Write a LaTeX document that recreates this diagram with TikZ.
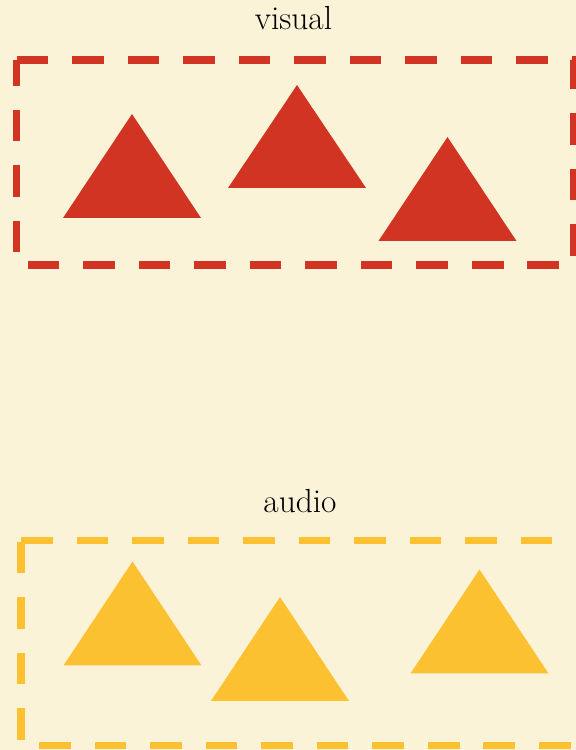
\documentclass[tikz,border=0pt]{standalone}
\usepackage{xcolor}
\usepackage{tikz}

\definecolor{fondo}{RGB}{250,243,216}
\definecolor{rojo}{RGB}{209,52,34}
\definecolor{amarillo}{RGB}{251,193,48}

\tikzset{
    marco/.style = {line width = 4.4pt, dash pattern = on 18pt off 13.6pt},
    etiqueta/.style = {anchor = base, font = \fontsize{19}{22}\selectfont}
}

\begin{document}
\begin{tikzpicture}
    % Fondo
    \fill[fondo] (0,0) rectangle (11.52,15);
    \useasboundingbox (0,0) rectangle (11.52,15);

    % Grupo visual
    \node[etiqueta] (visual) at (5.87,14.4) {visual};
    \draw[marco, draw = rojo] (0.33,13.8) -- (11.48,13.8) -- (11.48,9.7) -- (0.33,9.7) -- cycle;
    \fill[rojo] (1.26,10.64) -- ++(2.76,0) -- ++(-1.38,2.08) -- cycle;   % Triangulo 1
    \fill[rojo] (4.56,11.24) -- ++(2.76,0) -- ++(-1.38,2.06) -- cycle;   % Triangulo 2
    \fill[rojo] (7.57,10.18) -- ++(2.76,0) -- ++(-1.38,2.08) -- cycle;   % Triangulo 3

    % Grupo audio
    \node[etiqueta] (audio) at (6.0,4.74) {audio};
    \draw[marco, draw = amarillo] (0.42,4.19) -- (11.64,4.19) -- (11.64,0.09) -- (0.42,0.09) -- cycle;
    \fill[amarillo] (1.27,1.69) -- ++(2.76,0) -- ++(-1.38,2.08) -- cycle;   % Triangulo 1
    \fill[amarillo] (4.22,0.98) -- ++(2.76,0) -- ++(-1.38,2.08) -- cycle;   % Triangulo 2
    \fill[amarillo] (8.21,1.53) -- ++(2.76,0) -- ++(-1.38,2.08) -- cycle;   % Triangulo 3
\end{tikzpicture}
\end{document}
